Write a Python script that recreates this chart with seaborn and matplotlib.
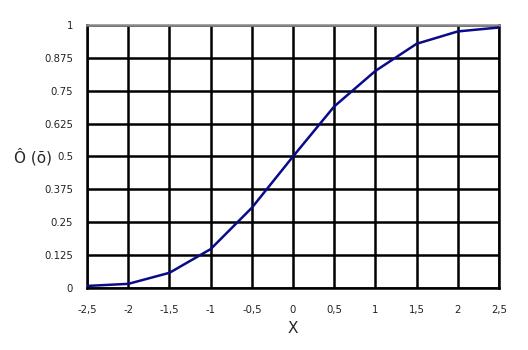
import matplotlib
matplotlib.use("Agg")
import matplotlib.pyplot as plt
import seaborn as sns
import pandas as pd

x_values = [-2.5, -2.0, -1.5, -1.0, -0.5, 0.0, 0.5, 1.0, 1.5, 2.0, 2.5]
phi_values = [0.008, 0.016, 0.058, 0.148, 0.305, 0.5, 0.69, 0.825, 0.928, 0.975, 0.99]
x_ticks = [-2.5, -2, -1.5, -1, -0.5, 0, 0.5, 1, 1.5, 2, 2.5]
x_ticklabels = ["-2,5", "-2", "-1,5", "-1", "-0,5", "0", "0,5", "1", "1,5", "2", "2,5"]
y_ticks = [0, 0.125, 0.25, 0.375, 0.5, 0.625, 0.75, 0.875, 1]
y_ticklabels = ["0", "0.125", "0.25", "0.375", "0.5", "0.625", "0.75", "0.875", "1"]

df = pd.DataFrame({"x": x_values, "phi": phi_values})

sns.set_style("white")
plt.rcParams['font.family'] = ['DejaVu Sans']

fig = plt.figure(figsize=(5.28, 3.5), dpi=100)
ax = fig.add_axes([0.165, 0.177, 0.780, 0.752])

sns.lineplot(data=df, x="x", y="phi", ax=ax, color="#0a0a8a", linewidth=1.8, zorder=5)

ax.set_xlim(-2.5, 2.5)
ax.set_ylim(0, 1)
ax.set_xticks(x_ticks)
ax.set_xticklabels(x_ticklabels, fontsize=7.3, color="#222222")
ax.set_yticks(y_ticks)
ax.set_yticklabels(y_ticklabels, fontsize=7.3, color="#222222")
ax.grid(True, color="black", linewidth=1.8)
ax.set_axisbelow(True)
ax.tick_params(axis="both", direction="out", length=4, width=1.8, color="black")
ax.tick_params(axis="x", pad=8)
ax.tick_params(axis="y", pad=6)
for side in ["left", "bottom", "right"]:
    ax.spines[side].set_color("black")
    ax.spines[side].set_linewidth(1.8)
ax.spines["top"].set_color("#888888")
ax.spines["top"].set_linewidth(1.8)

ax.set_xlabel("X", fontsize=11, va="center")
ax.xaxis.set_label_coords(0.5, -0.152)
ax.set_ylabel("Ô (õ)", fontsize=11, rotation=0, va="center", ha="center")
ax.yaxis.set_label_coords(-0.131, 0.5)

fig.savefig("out.png", dpi=100)
